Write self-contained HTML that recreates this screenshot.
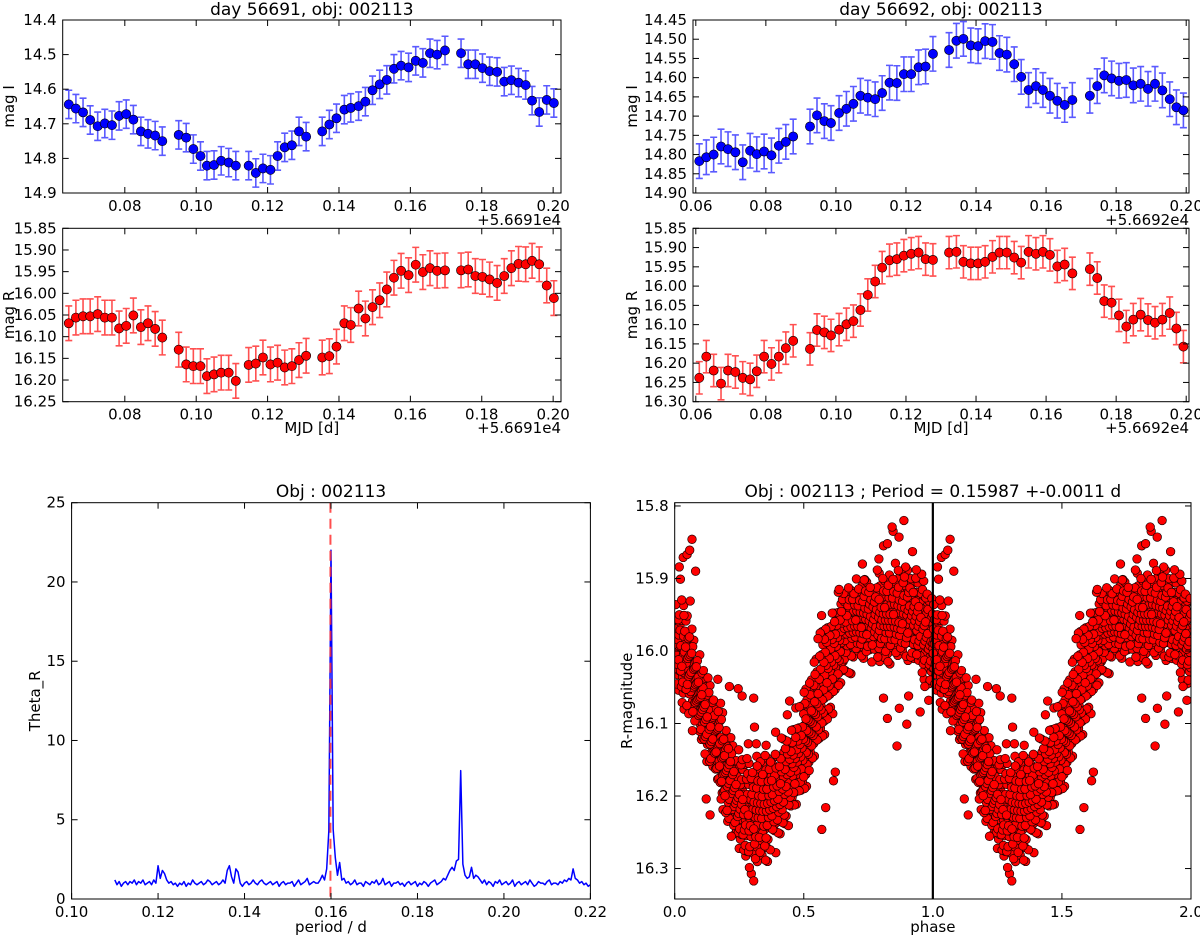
<!DOCTYPE html>
<html><head><meta charset="utf-8">
<style>
html,body{margin:0;padding:0;background:#fff;}
svg{display:block;font-family:"DejaVu Sans","Liberation Sans",sans-serif;}
</style></head>
<body>
<svg id="chart" width="1200" height="937" viewBox="0 0 1200 937" xmlns="http://www.w3.org/2000/svg"></svg>
<script>
// ---------- DATA ----------
const day1Times = [0.0643,0.0663,0.0683,0.0703,0.0724,0.0744,0.0764,0.0784,0.0804,0.0824,0.0845,0.0865,0.0885,0.0905,
0.0951,0.0972,0.0992,0.1012,0.1030,0.1050,0.1070,0.1091,0.1111,
0.1147,0.1167,0.1187,0.1208,0.1228,0.1248,0.1268,0.1288,0.1308,
0.1353,0.1373,0.1393,0.1415,0.1433,0.1455,0.1474,0.1494,0.1514,0.1534,0.1554,0.1574,0.1595,0.1615,0.1635,0.1655,0.1675,0.1697,
0.1742,0.1762,0.1782,0.1802,0.1822,0.1843,0.1863,0.1883,0.1903,0.1923,0.1941,0.1961,0.1982,0.2002];
const day1MagI = [14.644,14.656,14.667,14.689,14.707,14.699,14.704,14.677,14.672,14.688,14.722,14.729,14.734,14.750,
14.732,14.740,14.773,14.793,14.821,14.819,14.807,14.812,14.821,
14.821,14.842,14.829,14.833,14.793,14.768,14.762,14.722,14.737,
14.722,14.702,14.684,14.659,14.654,14.649,14.636,14.603,14.586,14.573,14.541,14.532,14.537,14.518,14.524,14.496,14.500,14.488,
14.496,14.528,14.528,14.539,14.548,14.550,14.578,14.574,14.581,14.588,14.633,14.666,14.631,14.640];
const day1MagR = [16.069,16.056,16.053,16.053,16.048,16.056,16.056,16.081,16.075,16.051,16.078,16.069,16.082,16.102,
16.130,16.164,16.168,16.168,16.191,16.187,16.183,16.183,16.202,
16.165,16.162,16.148,16.164,16.160,16.171,16.168,16.154,16.144,
16.148,16.145,16.123,16.069,16.073,16.035,16.058,16.032,16.016,15.991,15.964,15.948,15.958,15.934,15.951,15.942,15.948,15.947,
15.947,15.945,15.960,15.962,15.968,15.976,15.960,15.942,15.932,15.933,15.925,15.933,15.982,16.011];
const day2Times = [0.0610,0.0630,0.0651,0.0672,0.0692,0.0713,0.0734,0.0755,0.0774,0.0795,0.0816,0.0837,0.0857,0.0878,
0.0926,0.0946,0.0967,0.0986,0.1009,0.1030,0.1050,0.1070,0.1091,0.1112,0.1132,0.1153,0.1174,0.1194,0.1215,0.1236,0.1256,0.1277,
0.1323,0.1344,0.1364,0.1385,0.1406,0.1426,0.1447,0.1467,0.1488,0.1509,0.1529,0.1550,0.1571,0.1591,0.1611,0.1632,0.1653,0.1675,
0.1725,0.1746,0.1766,0.1787,0.1808,0.1829,0.1849,0.1870,0.1891,0.1911,0.1932,0.1953,0.1972,0.1992];
const day2MagI = [14.817,14.807,14.800,14.779,14.786,14.794,14.820,14.790,14.799,14.792,14.802,14.777,14.767,14.753,
14.727,14.698,14.713,14.718,14.692,14.681,14.668,14.647,14.652,14.656,14.640,14.613,14.614,14.591,14.591,14.573,14.571,14.538,
14.528,14.504,14.499,14.516,14.518,14.505,14.507,14.536,14.540,14.565,14.598,14.632,14.622,14.632,14.647,14.660,14.671,14.658,
14.647,14.622,14.594,14.602,14.608,14.606,14.620,14.616,14.629,14.616,14.633,14.656,14.677,14.685];
const day2MagR = [16.238,16.183,16.219,16.253,16.219,16.223,16.238,16.242,16.221,16.183,16.202,16.183,16.161,16.142,
16.163,16.114,16.120,16.128,16.113,16.099,16.091,16.062,16.023,15.988,15.952,15.933,15.930,15.921,15.916,15.913,15.930,15.932,
15.913,15.911,15.937,15.941,15.941,15.937,15.924,15.913,15.913,15.926,15.939,15.911,15.916,15.911,15.919,15.949,15.944,15.967,
15.956,15.979,16.039,16.043,16.076,16.105,16.087,16.074,16.088,16.095,16.087,16.070,16.110,16.157];
const errDay1I = [0.041];
const errDay1R = [0.040];
const errDay2I = [0.045];
const errDay2R = [0.042];

const periodStart = [0.110];
const periodStep = [0.0005];
const thetaR = [1.2,0.9,1.1,0.8,1.0,1.1,0.9,1.1,1.0,1.2,0.9,1.1,1.0,1.2,0.9,1.0,1.1,0.9,1.2,1.0,
2.1,1.3,1.8,1.6,1.2,1.0,1.1,0.9,1.0,0.8,
1.0,0.9,1.1,0.8,1.0,0.9,1.2,1.0,0.9,1.0,1.1,0.9,1.0,1.2,1.1,0.9,1.0,1.1,0.9,1.0,1.2,1.0,
1.8,2.1,1.4,1.0,1.9,1.7,1.0,0.8,
1.0,1.1,0.9,1.0,1.2,1.0,0.9,1.1,1.2,1.0,0.9,1.0,1.1,0.9,1.0,1.1,0.8,1.0,1.1,0.9,1.0,1.0,1.1,0.8,1.0,1.2,0.9,1.0,1.1,1.3,0.9,1.0,1.1,1.0,1.0,1.2,1.5,1.2,
1.9,4.3,22.0,4.4,2.6,1.5,2.3,1.2,1.3,1.0,
1.1,0.9,1.0,1.2,0.9,1.0,1.0,0.8,1.1,1.0,0.9,1.1,1.0,1.2,0.9,1.0,1.3,0.9,1.0,1.1,0.8,1.0,1.0,1.1,0.9,1.0,0.8,1.0,1.1,0.9,1.0,1.1,0.8,1.0,0.9,1.1,1.0,0.8,1.0,1.1,1.2,0.9,1.0,1.1,1.3,1.2,
1.5,1.8,2.0,1.8,2.4,2.5,8.1,2.2,1.5,1.3,1.4,2.0,1.3,1.5,1.4,1.2,
1.0,1.2,0.9,1.1,1.0,0.8,1.1,1.0,1.2,0.9,1.0,1.1,0.9,1.0,1.2,0.8,1.0,1.1,0.9,1.0,1.1,0.9,1.2,1.0,0.8,0.9,1.1,1.0,1.0,0.9,1.1,1.2,0.9,1.0,1.0,0.9,1.1,1.0,1.2,1.1,1.3,1.2,
1.9,1.3,1.2,1.0,1.1,0.9,1.0,0.8,0.9];
const bestPeriod = [0.15987];

const phaseNodes = [0,0.05,0.1,0.15,0.2,0.25,0.3,0.35,0.4,0.45,0.5,0.55,0.6,0.65,0.7,0.75,0.8,0.85,0.9,0.95,1.0];
const phaseMeanMag = [15.99,16.01,16.07,16.11,16.17,16.21,16.225,16.215,16.195,16.17,16.13,16.07,16.02,15.975,15.96,15.955,15.96,15.95,15.945,15.96,15.99];
const phaseSpread = [0.06,0.065,0.055,0.055,0.06,0.06,0.065,0.065,0.06,0.06,0.06,0.065,0.065,0.055,0.05,0.05,0.055,0.055,0.055,0.06,0.06];
const pointsPerCycle = [1300];
const outlierPhase = [0.018,0.033,0.048,0.058,0.067,0.081,0.022,0.060,0.846,0.888,0.869,0.842,0.809,0.824,0.921,0.791,0.727,0.866,0.936,0.734,0.637,
0.861,0.899,0.951,0.870,0.824,0.809,0.906,0.984,0.969,0.309,0.285,0.316,0.122,0.137,0.306,0.261,0.212,0.246,0.167,0.306,
0.570,0.585,0.615,0.622,0.569,0.555,0.445,0.391,0.436,0.354];
const outlierMag = [15.884,15.871,15.867,15.861,15.846,15.890,15.901,15.931,15.835,15.820,15.843,15.829,15.855,15.852,15.863,15.873,15.880,15.889,15.888,15.902,15.915,
16.131,16.101,16.084,16.079,16.093,16.065,16.062,16.068,16.049,16.105,16.128,16.128,16.204,16.226,16.065,16.062,16.049,16.052,16.039,16.317,
16.246,16.216,16.179,16.167,15.951,15.983,16.069,16.112,16.088,16.130];

// ---------- DRAWING ----------
const NS = 'http://www.w3.org/2000/svg';
const svg = document.getElementById('chart');
function mk(tag, attrs, parent){
  const e = document.createElementNS(NS, tag);
  for (const k in attrs) e.setAttribute(k, attrs[k]);
  (parent || svg).appendChild(e);
  return e;
}
function txt(x, y, s, size, anchor, parent, rot){
  const t = mk('text', {x:x, y:y, 'font-size':size, 'text-anchor':anchor||'middle', fill:'#000'}, parent);
  if (rot) t.setAttribute('transform', 'rotate(-90 '+x+' '+y+')');
  t.textContent = s;
  return t;
}
function makeAxes(p){
  p.sx = v => p.L + (v - p.xmin) / (p.xmax - p.xmin) * (p.R - p.L);
  p.sy = v => p.T + (v - p.yTop) / (p.yBot - p.yTop) * (p.B - p.T);
  const g = mk('g', {});
  
  
  p.g = g;
  const cid = 'clip-' + p.name;
  const cp = mk('clipPath', {id: cid}, g);
  mk('rect', {x:p.L, y:p.T, width:p.R-p.L, height:p.B-p.T}, cp);
  p.data = mk('g', {'clip-path':'url(#'+cid+')'}, g);
  
  
  return p;
}
function finishAxes(p){
  const g = p.g;
  const ax = mk('g', {}, g);
  
  
  p.xticks.forEach(v => {
    const x = p.sx(v);
    mk('line', {x1:x, x2:x, y1:p.B, y2:p.B-6, stroke:'#000', 'stroke-width':1}, ax);
    mk('line', {x1:x, x2:x, y1:p.T, y2:p.T+6, stroke:'#000', 'stroke-width':1}, ax);
    if (p.showX) {
      const t = txt(x, p.B + 18, v.toFixed(p.xdec), 15, 'middle', ax);
      
      
    }
  });
  p.yticks.forEach(v => {
    const y = p.sy(v);
    mk('line', {x1:p.L, x2:p.L+6, y1:y, y2:y, stroke:'#000', 'stroke-width':1}, ax);
    mk('line', {x1:p.R, x2:p.R-6, y1:y, y2:y, stroke:'#000', 'stroke-width':1}, ax);
    const t = txt(p.L - 6, y + 5, v.toFixed(p.ydec), 15, 'end', ax);
    
    
  });
  const box = mk('rect', {x:p.L, y:p.T, width:p.R-p.L, height:p.B-p.T, fill:'none', stroke:'#000', 'stroke-width':1}, ax);
  
  
}
function range(a, b, s){ const r=[]; for (let v=a; v<=b+1e-9; v+=s) r.push(Math.round(v*1e6)/1e6); return r; }

function errorPanel(p, times, mags, err, color, barColor){
  makeAxes(p);
  const e = err[0];
  times.forEach((t, i) => {
    const x = p.sx(t), y1 = p.sy(mags[i]-e), y2 = p.sy(mags[i]+e);
    const bar = mk('path', {d:'M'+x+' '+y1+'V'+y2+'M'+(x-3.5)+' '+y1+'H'+(x+3.5)+'M'+(x-3.5)+' '+y2+'H'+(x+3.5), stroke:barColor, 'stroke-width':1.6, fill:'none'}, p.data);
    
    
  });
  times.forEach((t, i) => {
    const c = mk('circle', {cx:p.sx(t), cy:p.sy(mags[i]), r:4.6, fill:color, stroke:'#000', 'stroke-width':0.6}, p.data);
    
    
  });
  finishAxes(p);
}

const p1 = {name:'day1-mag-i-panel', L:62.7, R:561, T:20, B:193, xmin:0.0626, xmax:0.2022, yTop:14.4, yBot:14.9,
  xticks:range(0.08,0.20,0.02), yticks:range(14.4,14.9,0.1), xdec:2, ydec:1, showX:true};
errorPanel(p1, day1Times, day1MagI, errDay1I, '#0000ff', '#5a5aff');
const p2 = {name:'day1-mag-r-panel', L:62.7, R:561, T:228.3, B:401.7, xmin:0.0626, xmax:0.2022, yTop:15.85, yBot:16.25,
  xticks:range(0.08,0.20,0.02), yticks:range(15.85,16.25,0.05), xdec:2, ydec:2, showX:true};
errorPanel(p2, day1Times, day1MagR, errDay1R, '#ff0000', '#ff5050');
const p3 = {name:'day2-mag-i-panel', L:693, R:1189, T:20, B:193, xmin:0.0592, xmax:0.2008, yTop:14.45, yBot:14.90,
  xticks:range(0.06,0.20,0.02), yticks:range(14.45,14.90,0.05), xdec:2, ydec:2, showX:true};
errorPanel(p3, day2Times, day2MagI, errDay2I, '#0000ff', '#5a5aff');
const p4 = {name:'day2-mag-r-panel', L:693, R:1189, T:228.3, B:401.7, xmin:0.0592, xmax:0.2008, yTop:15.85, yBot:16.30,
  xticks:range(0.06,0.20,0.02), yticks:range(15.85,16.30,0.05), xdec:2, ydec:2, showX:true};
errorPanel(p4, day2Times, day2MagR, errDay2R, '#ff0000', '#ff5050');

const p5 = makeAxes({name:'periodogram-panel', L:71.6, R:590.4, T:502.7, B:899, xmin:0.10, xmax:0.22, yTop:25, yBot:0,
  xticks:range(0.10,0.22,0.02), yticks:range(0,25,5), xdec:2, ydec:0, showX:true});
let d = '';
thetaR.forEach((v, i) => {
  const per = periodStart[0] + periodStep[0]*i;
  d += (i ? 'L' : 'M') + p5.sx(per).toFixed(2) + ' ' + p5.sy(v).toFixed(2);
});
const pl = mk('path', {d:d, stroke:'#0000ff', 'stroke-width':1.5, fill:'none', 'stroke-linejoin':'round'}, p5.data);


const bp = mk('line', {x1:p5.sx(bestPeriod[0]), x2:p5.sx(bestPeriod[0]), y1:p5.T, y2:p5.B, stroke:'#ff3030', 'stroke-width':2, 'stroke-dasharray':'10,6', opacity:0.85}, p5.data);


finishAxes(p5);

const p6 = makeAxes({name:'phase-plot-panel', L:674.7, R:1191, T:502.7, B:899, xmin:0, xmax:2, yTop:15.7955, yBot:16.342,
  xticks:range(0,2,0.5), yticks:range(15.8,16.3,0.1), xdec:1, ydec:1, showX:true});
function interp(arr, ph){
  const f = ph / 0.05, i = Math.min(Math.floor(f), arr.length - 2), w = f - i;
  return arr[i]*(1-w) + arr[i+1]*w;
}
const pts = [];
for (let k = 0; k < pointsPerCycle[0]; k++){
  const ph = (k*0.6180339887) % 1;
  const u1 = (k*0.7548776662 + 0.3) % 1, u2 = (k*0.5698402910 + 0.7) % 1;
  pts.push([ph, interp(phaseMeanMag, ph) + interp(phaseSpread, ph)*(u1+u2-1)*1.35]);
}
outlierPhase.forEach((ph, i) => pts.push([ph, outlierMag[i]]));
const sc = mk('g', {}, p6.data);


[0, 1].forEach(cyc => {
  pts.forEach(pt => {
    const c = mk('circle', {cx:p6.sx(pt[0]+cyc).toFixed(1), cy:p6.sy(pt[1]).toFixed(1), r:4.3, fill:'#ff0000', stroke:'#200000', 'stroke-width':0.7}, sc);
    
    
  });
});
const vl = mk('line', {x1:p6.sx(1), x2:p6.sx(1), y1:p6.T, y2:p6.B, stroke:'#000', 'stroke-width':2.2}, p6.data);


finishAxes(p6);

function label(x, y, s, size, name, rot, anchor){
  const t = txt(x, y, s, size, anchor || 'middle', svg, rot);
  
  
}
label((p1.L+p1.R)/2, 15, 'day 56691, obj: 002113', 17, 'title-day1');
label((p3.L+p3.R)/2, 15, 'day 56692, obj: 002113', 17, 'title-day2');
label(14, (p1.T+p1.B)/2, 'mag I', 15, 'y-axis-title-day1-i', true);
label(14, (p2.T+p2.B)/2, 'mag R', 15, 'y-axis-title-day1-r', true);
label(637, (p3.T+p3.B)/2, 'mag I', 15, 'y-axis-title-day2-i', true);
label(637, (p4.T+p4.B)/2, 'mag R', 15, 'y-axis-title-day2-r', true);
label(p1.R, 225, '+5.6691e4', 15, 'x-offset-day1-i', false, 'end');
label(p2.R, 433, '+5.6691e4', 15, 'x-offset-day1-r', false, 'end');
label(p3.R, 225, '+5.6692e4', 15, 'x-offset-day2-i', false, 'end');
label(p4.R, 433, '+5.6692e4', 15, 'x-offset-day2-r', false, 'end');
label((p2.L+p2.R)/2, 433, 'MJD [d]', 15, 'x-axis-title-day1');
label((p4.L+p4.R)/2, 433, 'MJD [d]', 15, 'x-axis-title-day2');
label((p5.L+p5.R)/2, 497, 'Obj : 002113', 17, 'title-periodogram');
label((p6.L+p6.R)/2, 497, 'Obj : 002113 ; Period = 0.15987 +-0.0011 d', 17, 'title-phase-plot');
label(40, (p5.T+p5.B)/2, 'Theta_R', 15, 'y-axis-title-theta', true);
label(632, (p6.T+p6.B)/2, 'R-magnitude', 15, 'y-axis-title-rmag', true);
label((p5.L+p5.R)/2, 932, 'period / d', 15, 'x-axis-title-period');
label((p6.L+p6.R)/2, 932, 'phase', 15, 'x-axis-title-phase');
</script>
</body></html>
